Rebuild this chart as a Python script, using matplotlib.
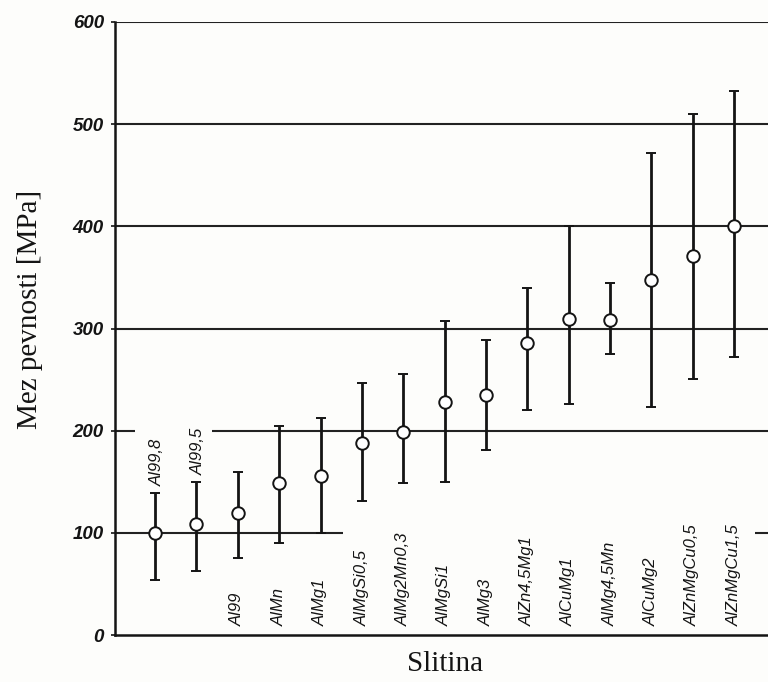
import matplotlib
matplotlib.use("Agg")
import matplotlib.pyplot as plt
import numpy as np

alloys = ["Al99,8", "Al99,5", "Al99", "AlMn", "AlMg1", "AlMgSi0,5", "AlMg2Mn0,3",
          "AlMgSi1", "AlMg3", "AlZn4,5Mg1", "AlCuMg1", "AlMg4,5Mn", "AlCuMg2",
          "AlZnMgCu0,5", "AlZnMgCu1,5"]
mean_vals = [100, 109, 119, 149, 156, 188, 199, 228, 235, 286, 309, 308, 347, 371, 400]
low_vals = [54, 63, 75, 90, 100, 131, 149, 150, 181, 220, 226, 275, 223, 251, 272]
high_vals = [139, 150, 160, 205, 212, 247, 255, 307, 289, 340, 400, 345, 472, 510, 532]
y_ticks = [0, 100, 200, 300, 400, 500, 600]
labels_above = ["Al99,8", "Al99,5"]

ink = "#141414"
bg = "#fdfdfb"

fig = plt.figure(figsize=(7.68, 6.82), dpi=100, facecolor=bg)
ax = fig.add_axes([115/768, 47/682, 653/768, 613/682], facecolor=bg)

x = np.arange(1, len(alloys) + 1)
mean = np.array(mean_vals)
yerr = [mean - np.array(low_vals), np.array(high_vals) - mean]

ax.set_xlim(0.03, 15.82)
ax.set_ylim(0, 600)

# grid lines (some interrupted as in the original)
gcol = "#222222"
for v in [300, 400, 500, 600]:
    ax.hlines(v, 0.03, 15.82, color=gcol, lw=1.5, zorder=1)
ax.hlines(200, 0.03, 0.52, color=gcol, lw=1.5, zorder=1)
ax.hlines(200, 2.38, 15.82, color=gcol, lw=1.5, zorder=1)
ax.hlines(100, 0.03, 5.55, color=gcol, lw=1.5, zorder=1)
ax.hlines(100, 15.5, 15.82, color=gcol, lw=1.5, zorder=1)

ax.errorbar(x, mean, yerr=yerr, fmt="o", color=ink, ecolor=ink, elinewidth=2.0,
            capsize=3.8, capthick=2.0, markersize=9, markerfacecolor="white",
            markeredgecolor=ink, markeredgewidth=1.4, zorder=3)

lab_font = dict(family=["Liberation Sans", "DejaVu Sans"], style="italic",
                fontsize=12, color=ink)
for xi, name, hi in zip(x, alloys, high_vals):
    if name in labels_above:
        ax.text(xi + 0.05, hi + 7, name, rotation=90, ha="center", va="bottom", **lab_font)
    else:
        ax.text(xi, 9, name, rotation=90, ha="center", va="bottom", **lab_font)

ax.set_xticks([])
ax.set_yticks(y_ticks)
ax.set_yticklabels([str(t) for t in y_ticks], family=["Liberation Sans", "DejaVu Sans"],
                   style="italic", fontweight="bold", fontsize=13.5, color=ink)
ax.tick_params(axis="y", length=3, width=1.2, color=ink, pad=5)

for s in ["top", "right"]:
    ax.spines[s].set_visible(False)
ax.spines["left"].set_linewidth(1.8)
ax.spines["bottom"].set_linewidth(1.8)
ax.spines["left"].set_color(ink)
ax.spines["bottom"].set_color(ink)

fig.text(30/768, 1 - 309/682, "Mez pevnosti [MPa]", rotation=90, ha="center", va="center",
         family=["Liberation Serif", "DejaVu Serif"], fontsize=21, color=ink)
fig.text(445/768, 1 - 664/682, "Slitina", ha="center", va="center",
         family=["Liberation Serif", "DejaVu Serif"], fontsize=21, color=ink)

fig.savefig("out.png", dpi=100, facecolor=bg)
